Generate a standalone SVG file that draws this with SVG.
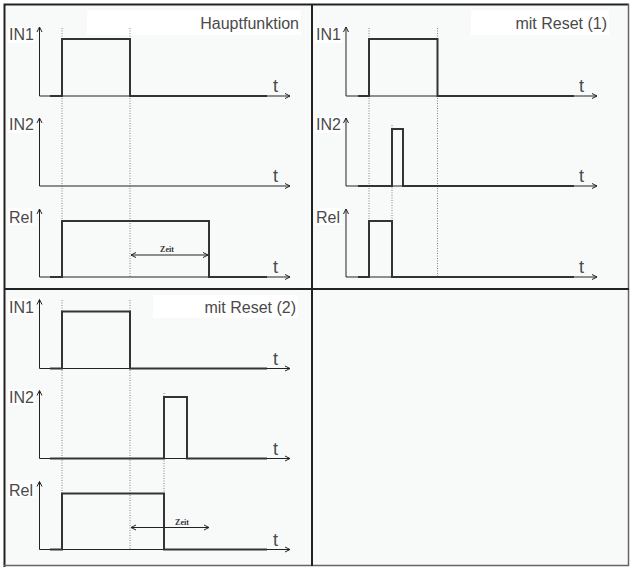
<svg xmlns="http://www.w3.org/2000/svg" width="631" height="567" viewBox="0 0 631 567">
<style>
.bg{fill:#f8fafa}
.wb{fill:#ffffff}
.axis{stroke:#222;stroke-width:1;fill:none}
.sig{stroke:#333;stroke-width:2;fill:none;stroke-linejoin:miter}
.dot{stroke:#666;stroke-width:0.8;stroke-dasharray:1 1.5;fill:none}
.frame{stroke:#222;stroke-width:2;fill:none}
.lbl{font-family:"Liberation Sans",Arial,sans-serif;font-size:16px;fill:#4a4a4a}
.tl{font-family:"Liberation Sans",Arial,sans-serif;font-size:18px;fill:#4a4a4a}
.ttl{font-family:"Liberation Sans",Arial,sans-serif;font-size:16px;fill:#4a4a4a;text-anchor:end}
.zeit{font-family:"Liberation Serif","Times New Roman",serif;font-weight:bold;font-size:8px;fill:#333;text-anchor:middle}
</style>
<defs>
<marker id="arr" markerUnits="userSpaceOnUse" markerWidth="8" markerHeight="8" refX="6" refY="4" orient="auto-start-reverse" viewBox="0 0 8 8">
<path d="M1,1.5 L6,4 L1,6.5" fill="none" stroke="#222" stroke-width="1"/>
</marker>
</defs>
<rect x="0" y="0" width="631" height="567" fill="#ffffff"/>
<rect class="bg" x="4" y="4" width="625" height="562"/>
<g id="frame">
<path class="frame" d="M4.5,567 V4.5 H629"/>
<path d="M628.5,4 V566 M4,565.5 H629" stroke="#666" stroke-width="1.5" fill="none"/>
<path class="frame" d="M312,4 V566 M4,289 H629" stroke-width="2.5"/>
</g>

<g id="panel-hauptfunktion">
<rect class="wb" x="87" y="10" width="214" height="25"/>
<text class="ttl" x="299" y="29">Hauptfunktion</text>
<rect class="wb" x="8" y="27" width="27" height="16"/>
<text class="lbl" x="9" y="40">IN1</text>
<rect class="wb" x="8" y="117" width="27" height="16"/>
<text class="lbl" x="9" y="130">IN2</text>
<rect class="wb" x="8" y="208" width="27" height="17"/>
<text class="lbl" x="9" y="223">Rel</text>
<text class="tl" x="273" y="92">t</text>
<text class="tl" x="273" y="182">t</text>
<text class="tl" x="273" y="273">t</text>
</g>
<g id="panel-reset1">
<rect class="wb" x="471" y="10" width="138" height="25"/>
<text class="ttl" x="607" y="29">mit Reset (1)</text>
<rect class="wb" x="315" y="27" width="27" height="16"/>
<text class="lbl" x="316" y="40">IN1</text>
<rect class="wb" x="315" y="117" width="27" height="16"/>
<text class="lbl" x="316" y="130">IN2</text>
<rect class="wb" x="315" y="208" width="27" height="17"/>
<text class="lbl" x="316" y="223">Rel</text>
<text class="tl" x="579" y="92">t</text>
<text class="tl" x="579" y="182">t</text>
<text class="tl" x="579" y="273">t</text>
</g>
<g id="panel-reset2">
<rect class="wb" x="153" y="295" width="145" height="23"/>
<text class="ttl" x="296" y="313">mit Reset (2)</text>
<rect class="wb" x="8" y="299" width="27" height="16"/>
<text class="lbl" x="9" y="312.5">IN1</text>
<rect class="wb" x="8" y="389" width="27" height="16"/>
<text class="lbl" x="9" y="402.5">IN2</text>
<rect class="wb" x="8" y="480" width="27" height="17"/>
<text class="lbl" x="9" y="495.5">Rel</text>
<text class="tl" x="273" y="364.5">t</text>
<text class="tl" x="273" y="455">t</text>
<text class="tl" x="273" y="545.5">t</text>
</g>

<g id="connectors">
<path class="dot" d="M62,28 V277 M130,28 V277"/>
<path class="dot" d="M369,28 V277 M437.5,28 V277 M392,125 V277"/>
<path class="dot" d="M62,300 V549.5 M130,300 V549.5 M164,393 V549.5"/>
<path class="axis" d="M39.5,96 V27" marker-end="url(#arr)"/>
<path class="axis" d="M39.5,96 H290" marker-end="url(#arr)"/>
<path class="axis" d="M39.5,186 V118" marker-end="url(#arr)"/>
<path class="axis" d="M39.5,186 H290" marker-end="url(#arr)"/>
<path class="axis" d="M39.5,277 V209" marker-end="url(#arr)"/>
<path class="axis" d="M39.5,277 H290" marker-end="url(#arr)"/>
<path class="axis" d="M346,96 V27" marker-end="url(#arr)"/>
<path class="axis" d="M346,96 H597" marker-end="url(#arr)"/>
<path class="axis" d="M346,186 V118" marker-end="url(#arr)"/>
<path class="axis" d="M346,186 H597" marker-end="url(#arr)"/>
<path class="axis" d="M346,277 V209" marker-end="url(#arr)"/>
<path class="axis" d="M346,277 H597" marker-end="url(#arr)"/>
<path class="axis" d="M39.5,368.5 V299.5" marker-end="url(#arr)"/>
<path class="axis" d="M39.5,368.5 H290" marker-end="url(#arr)"/>
<path class="axis" d="M39.5,458.5 V390.5" marker-end="url(#arr)"/>
<path class="axis" d="M39.5,458.5 H290" marker-end="url(#arr)"/>
<path class="axis" d="M39.5,549.5 V481.5" marker-end="url(#arr)"/>
<path class="axis" d="M39.5,549.5 H290" marker-end="url(#arr)"/>
<path class="sig" d="M50,96 H62 V39 H130 V96 H267"/>
<path class="sig" d="M50,277 H62 V221 H209 V277 H267"/>
<path class="sig" d="M358,96 H369 V39 H437.5 V96 H574"/>
<path class="sig" d="M358,186 H392 V129 H403 V186 H574"/>
<path class="sig" d="M358,277 H369 V221 H392 V277 H574"/>
<path class="sig" d="M50,368.5 H62 V311.5 H130 V368.5 H267"/>
<path class="sig" d="M50,458.5 H164 V397 H187 V458.5 H267"/>
<path class="sig" d="M50,549.5 H62 V493.5 H164 V549.5 H267"/>
<path class="axis" d="M131,255 H208" marker-start="url(#arr)" marker-end="url(#arr)"/>
<text class="zeit" x="167" y="252">Zeit</text>
<path class="axis" d="M131,527.5 H209" marker-start="url(#arr)" marker-end="url(#arr)"/>
<text class="zeit" x="182" y="524.5">Zeit</text>
</g>
</svg>
